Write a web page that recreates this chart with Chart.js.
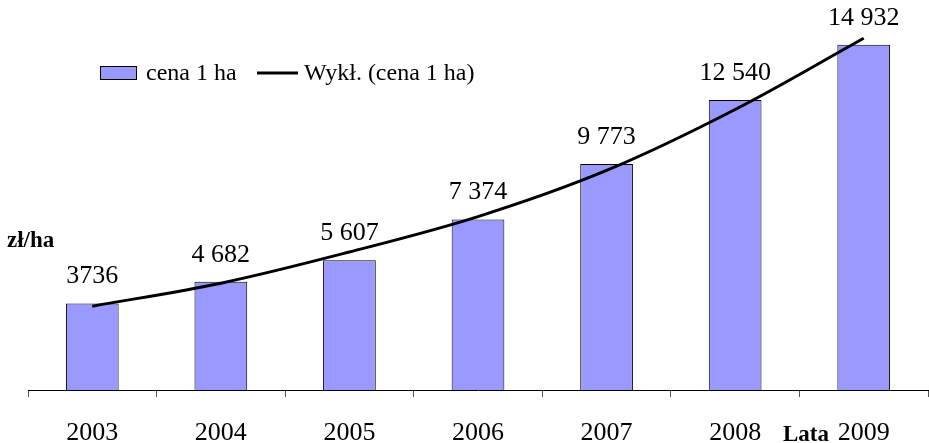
<!DOCTYPE html>
<html>
<head>
<meta charset="utf-8">
<script src="https://cdn.jsdelivr.net/npm/chart.js@4.4.1/dist/chart.umd.min.js"></script>
<style>
  html, body { margin: 0; padding: 0; background: #fff; }
  #wrap { width: 929px; height: 443px; position: relative; }
</style>
</head>
<body>
<div id="wrap"><canvas id="priceChart"></canvas></div>
<script>
// dane
const years = ['2003', '2004', '2005', '2006', '2007', '2008', '2009'];
const prices = [3736, 4682, 5607, 7374, 9773, 12540, 14932];
const priceLabels = ['3736', '4 682', '5 607', '7 374', '9 773', '12 540', '14 932'];
// linia trendu wykładniczego
const trend = [3625, 4620, 5970, 7500, 9495, 12130, 15210];

const serif = "'Liberation Serif', 'Times New Roman', serif";

// etykiety, legenda i opisy osi
const extras = {
    id: 'extras',
    afterDatasetsDraw(chart) {
        const c = chart.ctx;
        c.save();
        c.fillStyle = '#000';
        c.textAlign = 'center';
        c.textBaseline = 'middle';
        c.font = '26px ' + serif;
        chart.getDatasetMeta(0).data.forEach((bar, i) => {
            c.fillText(priceLabels[i], bar.x, bar.y - 27);
        });

        // legenda
        c.fillStyle = '#9999FF';
        c.fillRect(100.5, 66.5, 36, 13);
        c.strokeStyle = '#000';
        c.lineWidth = 1;
        c.strokeRect(100.5, 66.5, 36, 13);
        c.fillStyle = '#000';
        c.textAlign = 'left';
        c.font = '24px ' + serif;
        c.fillText(chart.data.datasets[0].label, 146, 74);
        c.beginPath();
        c.lineWidth = 3;
        c.moveTo(257, 73);
        c.lineTo(298, 73);
        c.stroke();
        c.fillText(chart.data.datasets[1].label, 304, 74);

        // opisy osi
        c.font = 'bold 23px ' + serif;
        c.fillText('zł/ha', 7, 241);
        c.textAlign = 'center';
        c.textBaseline = 'alphabetic';
        c.fillText('Lata', 806, 441);
        c.restore();
    }
};

new Chart(document.getElementById('priceChart'), {
    type: 'bar',
    data: {
        labels: years,
        datasets: [
            {
                label: 'cena 1 ha',
                data: prices,
                backgroundColor: '#9999FF',
                borderColor: '#000',
                borderWidth: 1,
                barPercentage: 0.41,
                categoryPercentage: 1,
                order: 2
            },
            {
                label: 'Wykł. (cena 1 ha)',
                data: trend,
                type: 'line',
                borderColor: '#000',
                borderWidth: 3,
                pointRadius: 0,
                tension: 0.35,
                fill: false,
                order: 1
            }
        ]
    },
    options: {
        responsive: true,
        maintainAspectRatio: false,
        animation: false,
        layout: { padding: { top: 20, left: 28, right: 1, bottom: 0 } },
        plugins: {
            legend: { display: false },
            tooltip: { enabled: false }
        },
        scales: {
            x: {
                offset: true,
                grid: {
                    offset: true,
                    drawOnChartArea: false,
                    drawTicks: true,
                    tickLength: 7,
                    color: '#555'
                },
                border: { color: '#000', width: 1 },
                ticks: {
                    color: '#000',
                    padding: 21,
                    font: { family: serif, size: 26 }
                },
                afterFit(scale) { scale.height = 53; }
            },
            y: {
                display: false,
                min: 0,
                max: 16000
            }
        }
    },
    plugins: [extras]
});
</script>
</body>
</html>
